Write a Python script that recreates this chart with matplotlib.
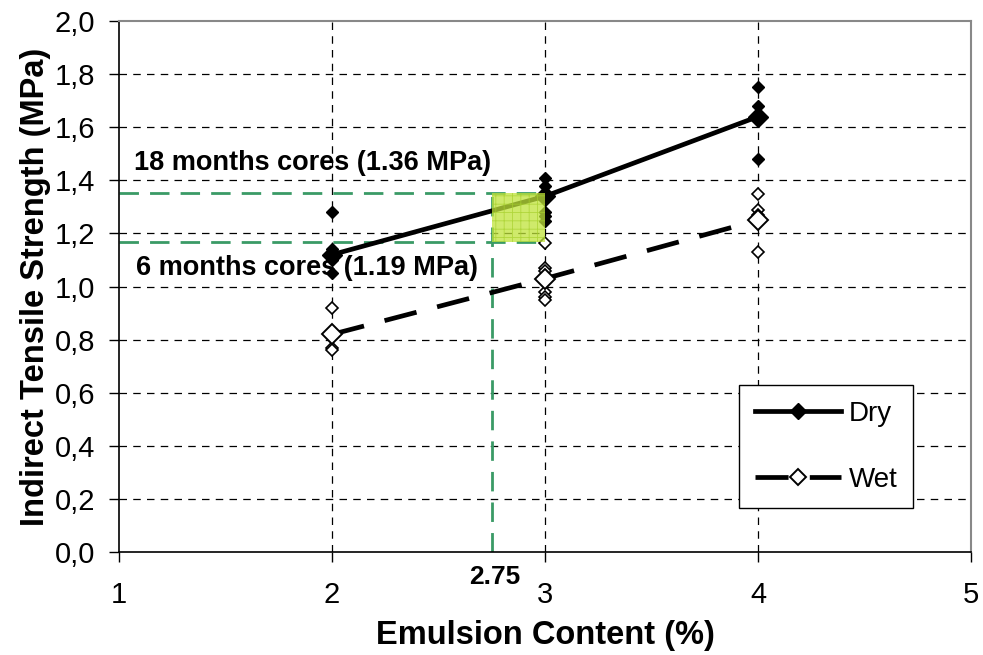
import matplotlib
matplotlib.use('Agg')
import matplotlib.pyplot as plt
from matplotlib.patches import Rectangle
from matplotlib.ticker import FuncFormatter

plt.rcParams['font.family'] = ['Liberation Sans', 'DejaVu Sans']
plt.rcParams['hatch.color'] = '#8fbf2a'
plt.rcParams['hatch.linewidth'] = 0.6

# emulsion content levels
content = [2, 3, 4]

# individual core results (MPa)
dry_x = [2, 2, 2, 2, 2, 3, 3, 3, 3, 3, 3, 4, 4, 4, 4, 4]
dry_y = [1.28, 1.14, 1.12, 1.10, 1.05, 1.41, 1.38, 1.35, 1.28, 1.265, 1.245,
         1.75, 1.68, 1.65, 1.63, 1.48]
wet_x = [2, 2, 2, 2, 3, 3, 3, 3, 3, 3, 4, 4, 4, 4]
wet_y = [0.92, 0.81, 0.77, 0.76, 1.165, 1.07, 1.06, 0.98, 0.96, 0.95,
         1.35, 1.29, 1.27, 1.13]

# mean values
dry_mean = [1.12, 1.34, 1.64]
wet_mean = [0.82, 1.03, 1.25]

# reference lines from the field cores
design_content = 2.75
cores_18m = 1.352
cores_6m = 1.168

green = '#3a9a66'

fig = plt.figure(figsize=(9.83, 6.55), dpi=100)
ax = fig.add_axes([0.121, 0.157, 0.867, 0.811])

ax.set_xlim(1, 5)
ax.set_ylim(0, 2.0)
ax.set_xticks([1, 2, 3, 4, 5])
ax.set_yticks([0, 0.2, 0.4, 0.6, 0.8, 1.0, 1.2, 1.4, 1.6, 1.8, 2.0])
ax.yaxis.set_major_formatter(FuncFormatter(lambda v, p: f'{v:.1f}'.replace('.', ',')))
ax.tick_params(axis='both', labelsize=21, length=7, width=1, direction='out')
ax.tick_params(axis='y', pad=10)
ax.tick_params(axis='x', pad=14)

# grid
for yv in [0.2, 0.4, 0.6, 0.8, 1.0, 1.2, 1.4, 1.6, 1.8]:
    ax.axhline(yv, color='black', lw=0.9, ls=(0, (6, 5)), zorder=1)
for xv in [2, 3, 4]:
    ax.axvline(xv, color='black', lw=0.9, ls=(0, (6, 5)), zorder=1)

for side in ['top', 'right']:
    ax.spines[side].set_color('#888888')
    ax.spines[side].set_linewidth(1.5)
for side in ['left', 'bottom']:
    ax.spines[side].set_linewidth(1.2)

# field core reference lines
ax.plot([1, 3], [cores_18m, cores_18m], color=green, lw=2, ls=(0, (7, 4)), zorder=2)
ax.plot([1, 3], [cores_6m, cores_6m], color=green, lw=2, ls=(0, (7, 4)), zorder=2)
ax.plot([design_content, design_content], [0, cores_18m], color=green, lw=2,
        ls=(0, (7, 4)), zorder=2)

# individual points
ax.plot(dry_x, dry_y, ls='none', marker='D', ms=6, color='black', zorder=4)
ax.plot(wet_x, wet_y, ls='none', marker='D', ms=6, mfc='white', mec='black',
        mew=1.2, zorder=4)

# mean lines
ax.plot(content, dry_mean, color='black', lw=3.4, marker='D', ms=10,
        label='Dry', zorder=5)
ax.plot(content, wet_mean, color='black', lw=3.4, ls=(0, (7, 4.5)), marker='D',
        ms=10, mfc='white', mec='black', mew=1.4, label='Wet', zorder=5)

# shaded zone
ax.add_patch(Rectangle((design_content, cores_6m), 3 - design_content,
                       cores_18m - cores_6m, facecolor='#bfe33a', alpha=0.75,
                       hatch='++', edgecolor='#a6d02c', lw=0, zorder=6))

ax.text(1.07, 1.465, '18 months cores (1.36 MPa)', fontsize=19.5, fontweight='bold',
        va='center', ha='left', zorder=7)
ax.text(1.08, 1.07, '6 months cores (1.19 MPa)', fontsize=19.5, fontweight='bold',
        va='center', ha='left', zorder=7)
ax.text(2.765, -0.094, '2.75', fontsize=19, fontweight='bold', va='center',
        ha='center', clip_on=False)

ax.set_xlabel('Emulsion Content (%)', fontsize=23.5, fontweight='bold', labelpad=8)
ax.set_ylabel('Indirect Tensile Strength (MPa)', fontsize=23.5, fontweight='bold',
              labelpad=3)

leg = ax.legend(loc='lower left', bbox_to_anchor=(0.728, 0.083), fontsize=20,
                handlelength=3.1, borderpad=0.55, labelspacing=1.45,
                fancybox=False, framealpha=1, edgecolor='black', handletextpad=0.3,
                borderaxespad=0, markerscale=0.8)
leg.get_frame().set_linewidth(1.0)

fig.savefig('out.png', dpi=100)
